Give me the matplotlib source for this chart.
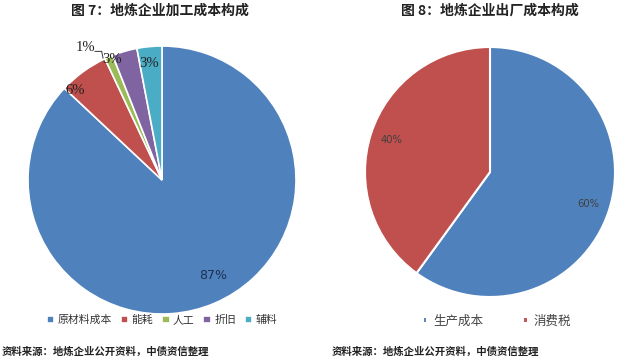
import numpy as np
import matplotlib
matplotlib.use('Agg')
import matplotlib.pyplot as plt

plt.rcParams['font.family'] = ['Noto Sans CJK SC', 'DejaVu Sans']

# 图 7 data
cost_labels = ['原材料成本', '能耗', '人工', '折旧', '辅料']
cost_values = [87, 6, 1, 3, 3]
cost_colors = ['#4F81BD', '#C0504D', '#9BBB59', '#8064A2', '#4BACC6']

# 图 8 data
out_labels = ['生产成本', '消费税']
out_values = [60, 40]
out_colors = ['#4F81BD', '#C0504D']

W, H = 640, 361
fig = plt.figure(figsize=(6.4, 3.61), dpi=100)


def px_axes(cx, cy, r):
    # axes square around the pie, given in pixel coords (top-left origin)
    return fig.add_axes([(cx - r) / W, (H - cy - r) / H, 2 * r / W, 2 * r / H])


# fig 7
ax1 = px_axes(162, 180, 134)
wedges1, texts1, auto1 = ax1.pie(cost_values, colors=cost_colors, startangle=90,
                                 counterclock=False, autopct='%d%%',
                                 wedgeprops=dict(edgecolor='white', linewidth=1.2),
                                 textprops=dict(family='Liberation Serif', fontsize=10.5,
                                                color='#222222'))
ax1.set_xlim(-1, 1)
ax1.set_ylim(-1, 1)
# label placement like the Excel chart
label_pos = [(0.38, -0.71), (-0.65, 0.67), (-0.57, 0.99), (-0.37, 0.90), (-0.10, 0.87)]
for t, p in zip(auto1, label_pos):
    t.set_position(p)
auto1[0].set_family('DejaVu Sans')
auto1[0].set_fontsize(9)
auto1[0].set_color('#1F2F4F')
# leader line for the 1% slice
ax1.plot([-0.50, -0.45, -0.44], [0.96, 0.96, 0.91], color='#333333', lw=0.7, clip_on=False)

# fig 8
ax2 = px_axes(490, 172, 125)
wedges2, texts2, auto2 = ax2.pie(out_values, colors=out_colors, startangle=90,
                                 counterclock=False, autopct='%d%%', pctdistance=0.83,
                                 wedgeprops=dict(edgecolor='white', linewidth=1.5),
                                 textprops=dict(family='DejaVu Sans', fontsize=7.2,
                                                color='#404040'))
ax2.set_xlim(-1, 1)
ax2.set_ylim(-1, 1)

# titles
fig.text(160 / W, 1 - 11 / H, '图 7：地炼企业加工成本构成', ha='center', va='center',
         fontsize=10, fontweight='bold', color='#222222')
fig.text(490 / W, 1 - 11 / H, '图 8：地炼企业出厂成本构成', ha='center', va='center',
         fontsize=10, fontweight='bold', color='#222222')

# legends
fig.legend(wedges1, cost_labels, loc='center', bbox_to_anchor=(162 / W, 1 - 320 / H),
           ncol=5, frameon=False, fontsize=7.8, handlelength=0.7, handleheight=0.7,
           handletextpad=0.3, columnspacing=0.8, labelcolor='#333333')
fig.legend(wedges2, out_labels, loc='center', bbox_to_anchor=(497 / W, 1 - 321 / H),
           ncol=2, frameon=False, fontsize=9, handlelength=0.35, handleheight=0.35,
           handletextpad=0.5, columnspacing=3.2, labelcolor='#444444')

# source notes
fig.text(2 / W, 1 - 352 / H, '资料来源：地炼企业公开资料，中债资信整理', ha='left', va='center',
         fontsize=7.5, fontweight='bold', color='#222222')
fig.text(332 / W, 1 - 352 / H, '资料来源：地炼企业公开资料，中债资信整理', ha='left', va='center',
         fontsize=7.5, fontweight='bold', color='#222222')

fig.savefig('out.png', dpi=100)
